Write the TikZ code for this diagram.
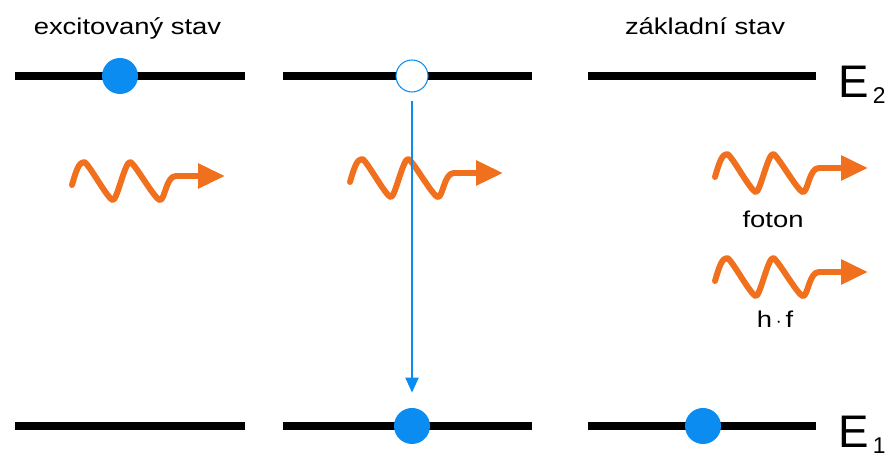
\documentclass[tikz,border=0pt]{standalone}
\usepackage{fontspec}
\usepackage{tikz}
\usetikzlibrary{arrows.meta}
\setmainfont{Liberation Sans}
\newfontfamily\statefont[FakeStretch=1.2]{Liberation Sans}

\definecolor{elblue}{RGB}{10,140,240}
\definecolor{phorange}{RGB}{240,112,30}

\tikzset{
    level/.style={line width=4.5pt},
    electron/.style={circle, fill=elblue, inner sep=0pt, minimum size=0.72cm},
    hole/.style={circle, draw=elblue, fill=white, line width=0.6pt, inner sep=0pt, minimum size=0.64cm},
    photon/.style={draw=phorange, line width=3.4pt, line cap=round, line join=round, -{Triangle[length=0.54cm,width=0.48cm]}},
    transition/.style={draw=elblue, line width=1.1pt, -{Triangle[length=0.3cm,width=0.26cm]}},
    statetext/.style={font=\statefont\fontsize{13}{15}\selectfont, anchor=base},
    energy/.style={font=\fontsize{26}{28}\selectfont, anchor=base west, inner sep=0pt},
    pics/wave/.style={code={
        \draw[photon] (0,-0.08) .. controls (0.08,0.2) and (0.14,0.38) .. (0.24,0.38)
            .. controls (0.32,0.38) and (0.72,-0.38) .. (0.82,-0.38)
            .. controls (0.9,-0.38) and (1.06,0.38) .. (1.16,0.38)
            .. controls (1.24,0.38) and (1.66,-0.38) .. (1.76,-0.38)
            .. controls (1.86,-0.38) and (1.88,0.1) .. (2.08,0.1)
            -- (3.06,0.1);
    }}
}

\begin{document}
\begin{tikzpicture}
    \useasboundingbox (0,0) rectangle (17.82,9.16);

    % Energy levels
    \draw[level] (0.3,7.64) -- (4.9,7.64);
    \draw[level] (5.66,7.64) -- (10.64,7.64);
    \draw[level] (11.76,7.64) -- (16.32,7.64);
    \draw[level] (0.3,0.64) -- (4.9,0.64);
    \draw[level] (5.66,0.64) -- (10.64,0.64);
    \draw[level] (11.76,0.64) -- (16.32,0.64);

    % Level labels
    \node[energy] (E2) at (16.76,7.2) {E\hspace{0.08cm}\raisebox{-0.12cm}{\fontsize{13}{14}\selectfont 2}};
    \node[energy] (E1) at (16.76,0.2) {E\hspace{0.08cm}\raisebox{-0.12cm}{\fontsize{13}{14}\selectfont 1}};

    % State captions
    \node[statetext] (excited) at (2.55,8.46) {excitovaný stav};
    \node[statetext] (ground) at (14.1,8.46) {základní stav};

    % Photons
    \pic at (1.44,5.54) {wave};
    \pic at (7.0,5.6) {wave};
    \pic at (14.3,5.7) {wave};
    \pic at (14.3,3.62) {wave};
    \node[statetext] (foton) at (15.46,4.6) {foton};
    \node[statetext] (hf) at (15.5,2.6) {h\,$\cdot$\,f};

    % Electrons and hole
    \node[electron] (e1) at (2.4,7.64) {};
    \node[hole] (h2) at (8.24,7.64) {};
    \node[electron] (e2) at (8.24,0.64) {};
    \node[electron] (e3) at (14.06,0.64) {};

    % Transition
    \draw[transition, shorten <=0.16cm, shorten >=0.3cm] (h2) -- (e2);
\end{tikzpicture}
\end{document}
